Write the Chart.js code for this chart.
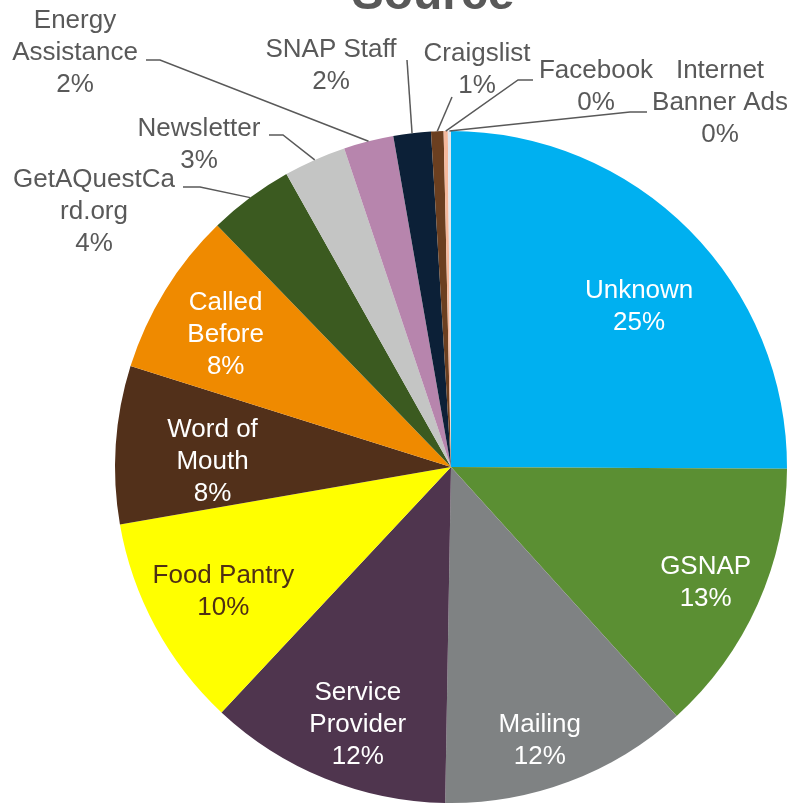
<!DOCTYPE html>
<html>
<head>
<meta charset="utf-8">
<script src="https://cdn.jsdelivr.net/npm/chart.js@4.4.0/dist/chart.umd.min.js"></script>
<style>
  html, body { margin: 0; padding: 0; background: #ffffff; }
  #wrap { width: 792px; height: 806px; position: relative; }
</style>
</head>
<body>
<div id="wrap"><canvas id="sourceChart" width="792" height="806"></canvas></div>
<script>
// Chart data (share of calls, %)
const categories = [
  'Unknown', 'GSNAP', 'Mailing', 'Service Provider', 'Food Pantry',
  'Word of Mouth', 'Called Before', 'GetAQuestCard.org', 'Newsletter',
  'Energy Assistance', 'SNAP Staff', 'Craigslist', 'Facebook', 'Internet Banner Ads'
];
const shares = [25.1, 13.2, 12.0, 11.7, 10.3, 7.6, 7.9, 4.1, 3.0, 2.4, 1.8, 0.6, 0.2, 0.15];
const sliceColors = [
  '#00b0f0', '#5b8f33', '#7f8283', '#4f354e', '#ffff00',
  '#52301a', '#ef8a00', '#3b5a20', '#c4c5c4',
  '#b785ad', '#0c2037', '#6b3f20', '#f4b89c', '#dfe6ee'
];

// How each label is broken into lines (same wrapping as the original)
const labelLines = [
  ['Unknown'], ['GSNAP'], ['Mailing'], ['Service', 'Provider'], ['Food Pantry'],
  ['Word of', 'Mouth'], ['Called', 'Before'], ['GetAQuestCa', 'rd.org'], ['Newsletter'],
  ['Energy', 'Assistance'], ['SNAP Staff'], ['Craigslist'], ['Facebook'], ['Internet', 'Banner Ads']
];

// Label placement: inside labels sit along the slice's mid angle,
// outside labels get a fixed text spot and an elbow for the leader line
const labelPlace = [
  { inside: true, r: 0.74, da: 4, color: '#ffffff' },
  { inside: true, r: 0.83, da: 0, color: '#ffffff' },
  { inside: true, r: 0.85, da: 2.5, color: '#ffffff' },
  { inside: true, r: 0.81, da: -2, color: '#ffffff' },
  { inside: true, r: 0.77, da: 0, color: '#4f2f14' },
  { inside: true, r: 0.71, da: -2, color: '#ffffff' },
  { inside: true, r: 0.78, da: -1, color: '#ffffff' },
  { x: 94, y: 210, path: [[183, 187], [200, 187]] },
  { x: 199, y: 143, path: [[269, 135], [283, 135]] },
  { x: 75, y: 51, path: [[146, 60], [160, 60]] },
  { x: 331, y: 64, path: [[407, 60]] },
  { x: 477, y: 68, path: [[452, 97]] },
  { x: 596, y: 85, path: [[533, 80], [518, 80]] },
  { x: 720, y: 101, path: [[647, 112], [630, 112]] }
];

const FONT = '"Liberation Sans", Arial, sans-serif';
const TEXT_GREY = '#595959';
const LINE_H = 32;
const TEXT_NUDGE = 2;

const sliceLabels = {
  id: 'sliceLabels',
  afterDatasetsDraw(chart) {
    const ctx = chart.ctx;
    const arcs = chart.getDatasetMeta(0).data;
    const total = shares.reduce((a, b) => a + b, 0);

    ctx.save();
    ctx.font = '26px ' + FONT;
    ctx.textAlign = 'center';
    ctx.textBaseline = 'middle';

    arcs.forEach((arc, i) => {
      const place = labelPlace[i];
      const lines = labelLines[i].concat(Math.round(shares[i] / total * 100) + '%');
      const mid = (arc.startAngle + arc.endAngle) / 2;
      let cx, cy;

      if (place.inside) {
        const a = mid + place.da * Math.PI / 180;
        const r = arc.outerRadius * place.r;
        cx = arc.x + Math.cos(a) * r;
        cy = arc.y + Math.sin(a) * r;
        ctx.fillStyle = place.color;
      } else {
        cx = place.x;
        cy = place.y;
        // leader line from the label to the slice edge
        const ex = arc.x + Math.cos(mid) * arc.outerRadius;
        const ey = arc.y + Math.sin(mid) * arc.outerRadius;
        ctx.strokeStyle = TEXT_GREY;
        ctx.lineWidth = 1.5;
        ctx.beginPath();
        ctx.moveTo(place.path[0][0], place.path[0][1]);
        place.path.slice(1).forEach(p => ctx.lineTo(p[0], p[1]));
        ctx.lineTo(ex, ey);
        ctx.stroke();
        ctx.fillStyle = TEXT_GREY;
      }

      const top = cy + TEXT_NUDGE - (lines.length - 1) * LINE_H / 2;
      lines.forEach((txt, k) => ctx.fillText(txt, cx, top + k * LINE_H));
    });

    // title, mostly cut off by the top edge in the original
    ctx.font = 'bold 48px ' + FONT;
    ctx.textBaseline = 'alphabetic';
    ctx.fillStyle = TEXT_GREY;
    ctx.fillText('Source', 433, 9);
    ctx.restore();
  }
};

const ctx = document.getElementById('sourceChart').getContext('2d');
new Chart(ctx, {
  type: 'pie',
  data: {
    labels: categories,
    datasets: [{
      data: shares,
      backgroundColor: sliceColors,
      borderWidth: 0,
      hoverOffset: 0
    }]
  },
  options: {
    responsive: false,
    animation: false,
    layout: {
      padding: { left: 115, right: 5, top: 131, bottom: 3 }
    },
    plugins: {
      legend: { display: false },
      tooltip: { enabled: false },
      title: { display: false }
    }
  },
  plugins: [sliceLabels]
});
</script>
</body>
</html>
